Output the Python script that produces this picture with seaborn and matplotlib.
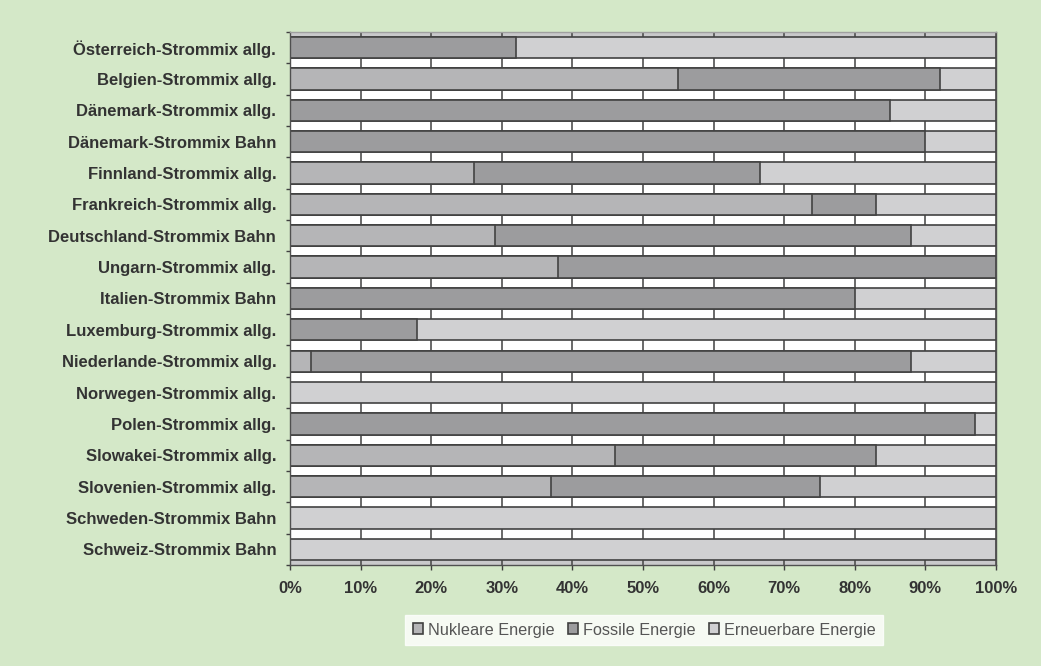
import numpy as np
import pandas as pd
import matplotlib
matplotlib.use("Agg")
import matplotlib.pyplot as plt
import seaborn as sns
from matplotlib.patches import Patch

# ---------------- data ----------------
categories = [
    "Österreich-Strommix allg.",
    "Belgien-Strommix allg.",
    "Dänemark-Strommix allg.",
    "Dänemark-Strommix Bahn",
    "Finnland-Strommix allg.",
    "Frankreich-Strommix allg.",
    "Deutschland-Strommix Bahn",
    "Ungarn-Strommix allg.",
    "Italien-Strommix Bahn",
    "Luxemburg-Strommix allg.",
    "Niederlande-Strommix allg.",
    "Norwegen-Strommix allg.",
    "Polen-Strommix allg.",
    "Slowakei-Strommix allg.",
    "Slovenien-Strommix allg.",
    "Schweden-Strommix Bahn",
    "Schweiz-Strommix Bahn",
]
nukleare = [0, 55, 0, 0, 26, 74, 29, 38, 0, 0, 3, 0, 0, 46, 37, 0, 0]
fossile = [32, 37, 85, 90, 40.5, 9, 59, 62, 80, 18, 85, 0, 97, 37, 38, 0, 0]
erneuerbare = [68, 8, 15, 10, 33.5, 17, 12, 0, 20, 82, 12, 100, 3, 17, 25, 100, 100]
series_names = ["Nukleare Energie", "Fossile Energie", "Erneuerbare Energie"]
x_ticks = [0, 10, 20, 30, 40, 50, 60, 70, 80, 90, 100]
x_ticklabels = ["0%", "10%", "20%", "30%", "40%", "50%", "60%", "70%", "80%", "90%", "100%"]

# ---------------- style ----------------
GREEN = "#d4e8c8"
C_NUC = "#b5b5b7"
C_FOS = "#9c9c9e"
C_REN = "#d0d0d2"
EDGE = "#424242"
TXT = "#333333"

sns.set_theme(style="white")
plt.rcParams["font.family"] = ["Liberation Sans", "DejaVu Sans"]

df = pd.DataFrame({
    "category": categories,
    "nuk": nukleare,
    "fos": fossile,
    "ern": erneuerbare,
})
df["fos_end"] = df["nuk"] + df["fos"]
df["total"] = df["fos_end"] + df["ern"]

fig = plt.figure(figsize=(10.41, 6.66), dpi=100, facecolor=GREEN)
ax = fig.add_axes([0.2786, 0.1517, 0.6782, 0.8003])
ax.set_facecolor("#c9c9cb")

for col, color in [("total", C_REN), ("fos_end", C_FOS), ("nuk", C_NUC)]:
    sns.barplot(data=df, x=col, y="category", orient="h", color=color,
                saturation=1, width=0.68, edgecolor=EDGE, linewidth=1.2, ax=ax)

n = len(categories)
ax.set_xlim(0, 100)
ax.set_ylim(n - 0.5, -0.5)
ax.set_xlabel("")
ax.set_ylabel("")
ax.set_xticks(x_ticks)
ax.set_xticklabels(x_ticklabels, fontsize=12, fontweight="bold", color=TXT)
for lab in ax.get_yticklabels():
    lab.set_fontsize(12)
    lab.set_fontweight("bold")
    lab.set_color(TXT)

ax.set_yticks(np.arange(-0.5, n, 1.0), minor=True)
ax.xaxis.grid(True, which="major", color="#505050", linewidth=1.2)
ax.yaxis.grid(True, which="minor", color="white", linewidth=7.2)
ax.yaxis.grid(False, which="major")
ax.xaxis.set_zorder(0.7)
ax.yaxis.set_zorder(0.6)
mt = ax.yaxis.get_minor_ticks()
mt[0].gridline.set_visible(False)
mt[-1].gridline.set_visible(False)

ax.tick_params(axis="x", which="major", bottom=True, length=3.6, width=1.0,
               color="#404040", pad=8)
ax.tick_params(axis="y", which="major", left=False, length=0, pad=10)
ax.tick_params(axis="y", which="minor", left=True, length=3, width=1.0,
               color="#404040")

for side, sp in ax.spines.items():
    sp.set_visible(True)
    sp.set_color("#505050")
    sp.set_linewidth(1.0)
ax.spines["top"].set_color("#a0a0a0")

handles = [Patch(facecolor=c, edgecolor="#404040", linewidth=1.2, label=l)
           for c, l in zip([C_NUC, C_FOS, C_REN], series_names)]
leg = fig.legend(handles=handles, loc="center", bbox_to_anchor=(0.619, 0.054),
                 ncol=3, frameon=True, fancybox=False, fontsize=11.7,
                 handlelength=0.65, handleheight=0.65, handletextpad=0.3,
                 columnspacing=0.8, borderpad=0.45)
leg.get_frame().set_facecolor("white")
leg.get_frame().set_edgecolor("white")
for t in leg.get_texts():
    t.set_color("#555555")

fig.savefig("out.png", dpi=100, facecolor=GREEN)
